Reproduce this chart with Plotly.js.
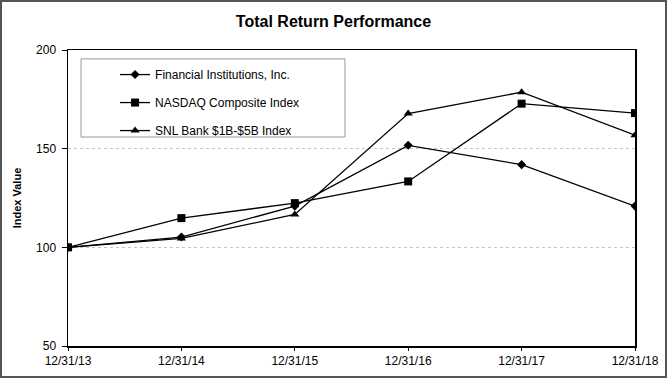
<!DOCTYPE html>
<html>
<head>
<meta charset="utf-8">
<script src="https://cdn.plot.ly/plotly-3.0.1.min.js"></script>
<style>
html,body{margin:0;padding:0;background:#fff;}
#wrap{position:relative;width:667px;height:378px;}
#chart{width:667px;height:378px;}
#frame{position:absolute;left:0;top:0;width:667px;height:378px;box-sizing:border-box;border:2px solid #555;pointer-events:none;}
</style>
</head>
<body>
<div id="wrap"><div id="chart"></div><div id="frame"></div></div>
<script>
const dates = ["12/31/13","12/31/14","12/31/15","12/31/16","12/31/17","12/31/18"];
const financialInstitutions = [100, 105.2, 120.9, 151.7, 141.9, 120.9];
const nasdaqComposite = [100, 114.8, 122.4, 133.4, 172.8, 168.0];
const snlBank = [100, 104.5, 116.7, 167.8, 178.6, 156.8];
const yTicks = [50, 100, 150, 200];

const lineStyle = {color: '#000', width: 1.3};
const traces = [
  {x: dates, y: financialInstitutions, name: 'Financial Institutions, Inc.', legendgroup: 'a',
   mode: 'lines+markers', line: lineStyle, marker: {symbol: 'diamond', size: 7, color: '#000'}},
  {x: dates, y: nasdaqComposite, name: 'NASDAQ Composite Index', legendgroup: 'b',
   mode: 'lines+markers', line: lineStyle, marker: {symbol: 'square', size: 8, color: '#000'}},
  {x: dates, y: snlBank, name: 'SNL Bank $1B-$5B Index', legendgroup: 'c',
   mode: 'lines+markers', line: lineStyle, marker: {symbol: 'triangle-up', size: 8, color: '#000'}}
];

const font = {family: 'Arial, "Liberation Sans", sans-serif', color: '#000', size: 12};
const layout = {
  width: 667, height: 378,
  margin: {l: 68, r: 32, t: 50, b: 32, pad: 0},
  paper_bgcolor: '#fff', plot_bgcolor: '#fff',
  font: font,
  title: {text: '<b>Total Return Performance</b>', font: {family: font.family, size: 16, color: '#000'},
          x: 0.5, xanchor: 'center', y: 0.943, yanchor: 'middle', yref: 'container'},
  xaxis: {type: 'category', categoryorder: 'array', categoryarray: dates, range: [0, dates.length - 1],
          showline: true, linecolor: '#000', linewidth: 1.5, mirror: true,
          ticks: 'outside', ticklen: 3, tickcolor: '#000', showgrid: false, zeroline: false,
          tickfont: {size: 12}},
  xaxis2: {overlaying: 'x', range: [0, dates.length - 1], tickvals: dates.map((_, i) => i),
           showticklabels: false, ticks: 'inside', ticklen: 4, tickcolor: '#000',
           showline: false, showgrid: false, zeroline: false, side: 'bottom', anchor: 'y'},
  yaxis: {range: [50, 200], tickvals: yTicks, ticks: 'outside', ticklen: 5, tickcolor: '#000',
          showline: true, linecolor: '#000', linewidth: 1.5, mirror: true,
          showgrid: true, gridcolor: '#c4c4c4', griddash: 'dot', gridwidth: 1, zeroline: false,
          tickfont: {size: 12}, ticklabelstandoff: 3,
          title: {text: '<b>Index Value</b>', font: {size: 11}, standoff: 12}},
  showlegend: true,
  legend: {x: 0.083, xanchor: 'left', y: 0.966, yanchor: 'top', bgcolor: 'rgba(0,0,0,0)',
           borderwidth: 0, font: {size: 12}, tracegroupgap: 9, traceorder: 'grouped'},
  shapes: [{type: 'rect', xref: 'paper', yref: 'paper', x0: 0.023, x1: 0.4885, y0: 0.706, y1: 0.97,
            line: {color: '#999', width: 1}, fillcolor: 'rgba(0,0,0,0)', layer: 'below'}]
};
Plotly.newPlot('chart', traces, layout, {displayModeBar: false, staticPlot: true});
</script>
</body>
</html>
